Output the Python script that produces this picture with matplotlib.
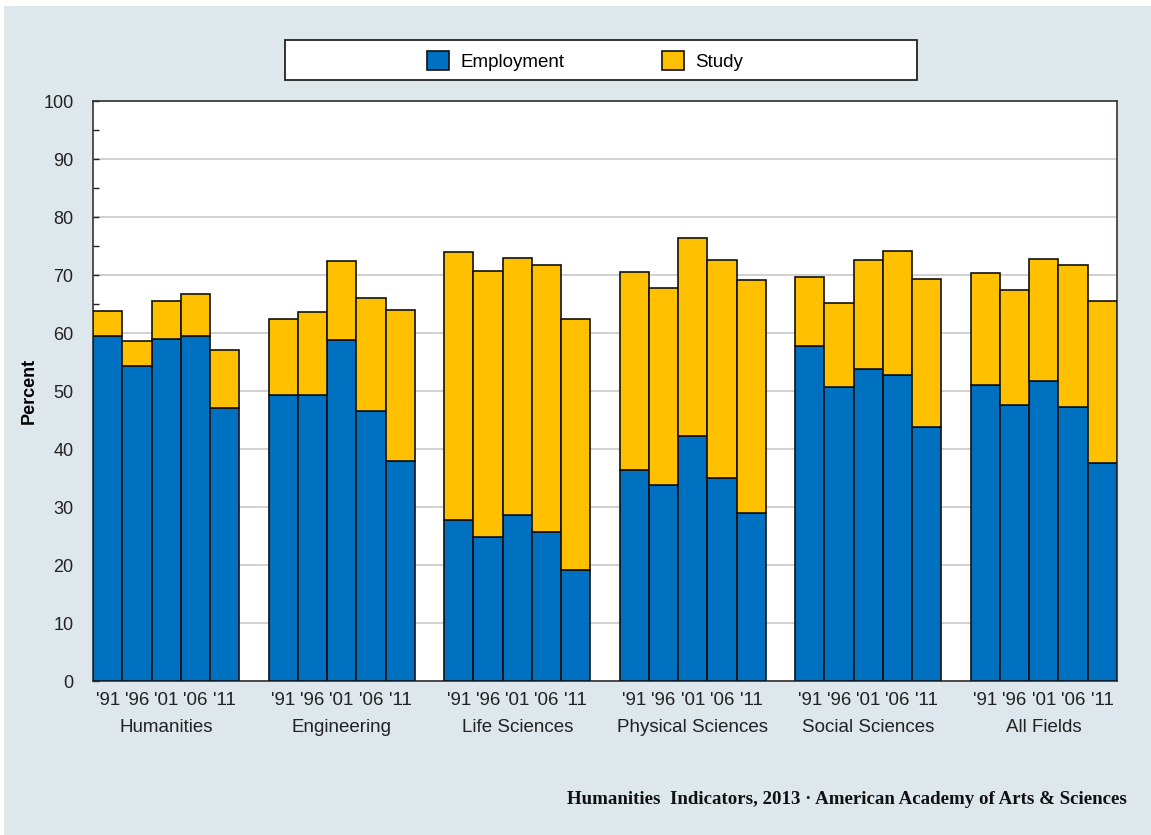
import matplotlib
matplotlib.use("Agg")
import matplotlib.pyplot as plt
from matplotlib.patches import Rectangle
import numpy as np

plt.rcParams['font.family'] = ['Liberation Sans', 'DejaVu Sans']

fields = ["Humanities", "Engineering", "Life Sciences", "Physical Sciences", "Social Sciences", "All Fields"]
years = ["'91", "'96", "'01", "'06", "'11"]

employment = [
    [59.5, 54.3, 59.0, 59.5, 47.1],
    [49.3, 49.3, 58.8, 46.6, 37.9],
    [27.8, 24.8, 28.6, 25.7, 19.1],
    [36.4, 33.8, 42.2, 35.0, 29.0],
    [57.8, 50.7, 53.8, 52.8, 43.8],
    [51.0, 47.6, 51.7, 47.2, 37.6],
]
total = [
    [63.8, 58.6, 65.5, 66.7, 57.1],
    [62.4, 63.6, 72.4, 66.0, 64.0],
    [74.0, 70.7, 72.9, 71.7, 62.4],
    [70.5, 67.8, 76.4, 72.6, 69.1],
    [69.7, 65.2, 72.6, 74.1, 69.3],
    [70.3, 67.4, 72.8, 71.7, 65.5],
]

blue = "#0070C0"
gold = "#FFC000"
bg = "#dde7ec"

W, H = 1151, 835
fig = plt.figure(figsize=(W / 100, H / 100), dpi=100)
fig.patch.set_facecolor("white")
fig.patches.append(Rectangle((4 / W, 0), 1, 1 - 6 / H, transform=fig.transFigure,
                             facecolor=bg, edgecolor="none", zorder=-10))

ax = fig.add_axes([93 / W, (H - 681) / H, 1024 / W, 580 / H])
ax.set_facecolor("white")

xs, xl = [], []
emp_all, study_all = [], []
for g, f in enumerate(fields):
    for i, y in enumerate(years):
        xs.append(g * 6 + i)
        xl.append(y)
        emp_all.append(employment[g][i])
        study_all.append(total[g][i] - employment[g][i])
xs = np.array(xs)
emp_all = np.array(emp_all)
study_all = np.array(study_all)

b1 = ax.bar(xs, emp_all, width=1.0, color=blue, edgecolor="#111111", linewidth=1.2,
            label="Employment", zorder=3)
b2 = ax.bar(xs, study_all, bottom=emp_all, width=1.0, color=gold, edgecolor="#111111",
            linewidth=1.2, label="Study", zorder=3)

ax.set_xlim(-0.5, 34.5)
ax.set_ylim(0, 100)
ax.set_yticks(np.arange(0, 101, 10))
ax.set_yticks(np.arange(5, 100, 10), minor=True)
ax.yaxis.grid(True, color="#c8c8c8", linewidth=1.2, zorder=0)
ax.tick_params(axis="y", which="both", direction="in", length=4, width=1,
               labelsize=13, pad=14, colors="#222222")
ax.set_xticks(xs)
ax.set_xticklabels(xl)
ax.tick_params(axis="x", length=0, labelsize=13.5, pad=8, colors="#222222")
for s in ax.spines.values():
    s.set_color("#333333")
    s.set_linewidth(1.2)

for g, f in enumerate(fields):
    ax.text(g * 6 + 2, -8.1, f, ha="center", va="center", fontsize=13.5,
            color="#222222", transform=ax.transData)

ax.set_ylabel("Percent", fontsize=13, fontweight="bold", labelpad=4)

# legend box
fig.patches.append(Rectangle((285 / W, (H - 80) / H), 632 / W, 40 / H,
                             transform=fig.transFigure, facecolor="white",
                             edgecolor="#222222", linewidth=1.3, zorder=5))
leg = fig.legend(handles=[b1, b2], labels=["Employment", "Study"], ncol=2,
                 loc="center", bbox_to_anchor=(585 / W, (H - 61) / H),
                 frameon=False, fontsize=13.5, handlelength=1.2, handleheight=1.2,
                 columnspacing=5.2, handletextpad=0.6)
leg.set_zorder(6)

fig.text(1127 / W, (H - 800) / H,
         "Humanities  Indicators, 2013 \u00b7 American Academy of Arts & Sciences",
         ha="right", va="center", fontsize=13.6, fontweight="bold",
         family=["Liberation Serif", "DejaVu Serif"], color="#111111")

fig.savefig("out.png", dpi=100, facecolor=fig.get_facecolor())
